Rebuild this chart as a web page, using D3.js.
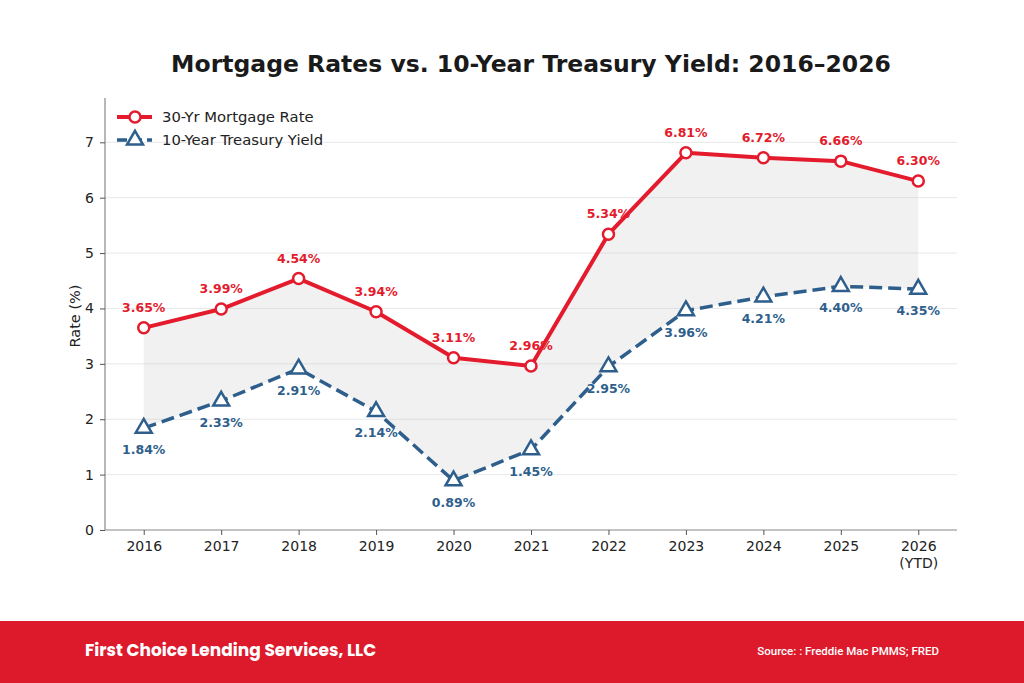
<!DOCTYPE html>
<html><head><meta charset="utf-8">
<script src="https://cdn.jsdelivr.net/npm/d3@7"></script>
<style>body{margin:0;background:#fff;} svg{display:block;}</style>
</head><body>
<svg id="chart" width="1024" height="683"></svg>
<script>
const years = ["2016","2017","2018","2019","2020","2021","2022","2023","2024","2025","2026"];
const yearSub = ["","","","","","","","","","","(YTD)"];
const mortgage = [3.65,3.99,4.54,3.94,3.11,2.96,5.34,6.81,6.72,6.66,6.30];
const treasury = [1.84,2.33,2.91,2.14,0.89,1.45,2.95,3.96,4.21,4.40,4.35];
const yTicks = [0,1,2,3,4,5,6,7];

const svg = d3.select("#chart");
const red = "#e31b2d", blue = "#2e5f8c";
const L = 105, R = 957, T = 98, B = 530;
const x = d3.scaleLinear().domain([-0.5, years.length - 0.5]).range([L, R]);
const y = d3.scaleLinear().domain([0, 7.8]).range([B, T]);
const font = "'DejaVu Sans', sans-serif";

// grid
svg.append("g").selectAll("line").data(yTicks.slice(1)).join("line")
  .attr("x1", L).attr("x2", R).attr("y1", d => y(d)).attr("y2", d => y(d))
  .attr("stroke", "#e8e8e8").attr("stroke-width", 1);

// fill between
const area = d3.area().x((d,i) => x(i)).y0((d,i) => y(treasury[i])).y1(d => y(d));
svg.append("path").datum(mortgage).attr("d", area).attr("fill", "#bdbdbd").attr("fill-opacity", 0.22);

// axes
const xAxis = d3.axisBottom(x).tickValues(d3.range(years.length)).tickFormat(i => years[i]).tickSize(5).tickPadding(6);
const gx = svg.append("g").attr("transform", `translate(0,${B})`).call(xAxis);
gx.select(".domain").attr("stroke", "#888").attr("stroke-width", 1.2).attr("d", `M${L},0H${R}`);
gx.selectAll(".tick line").attr("stroke", "#555");
gx.selectAll(".tick text").attr("font-family", font).attr("font-size", 14).attr("fill", "#222");
gx.selectAll(".tick").append("text").attr("y", 28).attr("dy", "0.71em").attr("fill", "#222")
  .attr("font-family", font).attr("font-size", 14).attr("text-anchor", "middle").text(i => yearSub[i]);

const yAxis = d3.axisLeft(y).tickValues(yTicks).tickSize(5).tickPadding(6);
const gy = svg.append("g").attr("transform", `translate(${L},0)`).call(yAxis);
gy.select(".domain").attr("stroke", "#888").attr("stroke-width", 1.2).attr("d", `M0,${T}V${B}`);
gy.selectAll(".tick line").attr("stroke", "#555");
gy.selectAll(".tick text").attr("font-family", font).attr("font-size", 14).attr("fill", "#222");

svg.append("text").attr("transform", `translate(80,316) rotate(-90)`)
  .attr("text-anchor", "middle").attr("font-family", font).attr("font-size", 14.5).attr("fill", "#222").text("Rate (%)");

// title
svg.append("text").attr("x", (L+R)/2).attr("y", 72).attr("text-anchor", "middle")
  .attr("font-family", font).attr("font-weight", "bold").attr("font-size", 23.5).attr("fill", "#1a1a1a")
  .text("Mortgage Rates vs. 10-Year Treasury Yield: 2016–2026");

// lines
const line = d3.line().x((d,i) => x(i)).y(d => y(d));
svg.append("path").datum(treasury).attr("d", line).attr("fill", "none").attr("stroke", blue)
  .attr("stroke-width", 3.5).attr("stroke-dasharray", "13,6");
svg.append("path").datum(mortgage).attr("d", line).attr("fill", "none").attr("stroke", red)
  .attr("stroke-width", 4).attr("stroke-linejoin", "round");

const tri = d3.symbol().type(d3.symbolTriangle).size(110);
svg.append("g").selectAll("path").data(treasury).join("path")
  .attr("d", tri).attr("transform", (d,i) => `translate(${x(i)},${y(d)})`)
  .attr("fill", "#fff").attr("stroke", blue).attr("stroke-width", 2.5);
svg.append("g").selectAll("circle").data(mortgage).join("circle")
  .attr("cx", (d,i) => x(i)).attr("cy", d => y(d)).attr("r", 5.5)
  .attr("fill", "#fff").attr("stroke", red).attr("stroke-width", 2.5);

// value labels
svg.append("g").selectAll("text").data(mortgage).join("text")
  .attr("x", (d,i) => x(i)).attr("y", d => y(d) - 16).attr("text-anchor", "middle")
  .attr("font-family", font).attr("font-weight", "bold").attr("font-size", 12.5).attr("fill", red)
  .text(d => d.toFixed(2) + "%");
svg.append("g").selectAll("text").data(treasury).join("text")
  .attr("x", (d,i) => x(i)).attr("y", d => y(d) + 26).attr("text-anchor", "middle")
  .attr("font-family", font).attr("font-weight", "bold").attr("font-size", 12.5).attr("fill", blue)
  .text(d => d.toFixed(2) + "%");

// legend
const lg = svg.append("g");
lg.append("line").attr("x1", 117).attr("x2", 152).attr("y1", 117).attr("y2", 117).attr("stroke", red).attr("stroke-width", 4);
lg.append("circle").attr("cx", 135).attr("cy", 117).attr("r", 5.5).attr("fill", "#fff").attr("stroke", red).attr("stroke-width", 2.5);
lg.append("text").attr("x", 162).attr("y", 122).attr("font-family", font).attr("font-size", 14.8).attr("fill", "#222").text("30-Yr Mortgage Rate");
lg.append("line").attr("x1", 117).attr("x2", 152).attr("y1", 140).attr("y2", 140).attr("stroke", blue).attr("stroke-width", 3.5).attr("stroke-dasharray", "10,5");
lg.append("path").attr("d", tri).attr("transform", "translate(135,140)").attr("fill", "#fff").attr("stroke", blue).attr("stroke-width", 2.5);
lg.append("text").attr("x", 162).attr("y", 145).attr("font-family", font).attr("font-size", 14.8).attr("fill", "#222").text("10-Year Treasury Yield");

// footer
svg.append("rect").attr("x", 0).attr("y", 621).attr("width", 1024).attr("height", 62).attr("fill", "#dc1a2c");
svg.append("text").attr("x", 85).attr("y", 656).attr("font-family", "Poppins, Lato, 'Open Sans', sans-serif").attr("font-weight", "bold")
  .attr("font-size", 17).attr("fill", "#fff").text("First Choice Lending Services, LLC");
svg.append("text").attr("x", 939).attr("y", 655).attr("text-anchor", "end").attr("font-family", "Roboto, 'Open Sans', sans-serif").attr("font-weight", "500")
  .attr("font-size", 11.5).attr("fill", "#fff").text("Source: : Freddie Mac PMMS; FRED");
</script>
</body></html>
